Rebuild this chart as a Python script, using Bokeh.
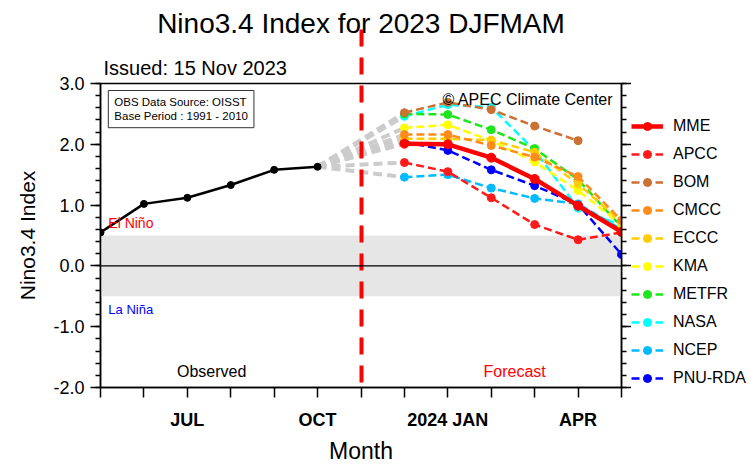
from bokeh.plotting import figure
from bokeh.layouts import row
from bokeh.models import (Range1d, FixedTicker, SingleIntervalTicker, LinearAxis,
                          PrintfTickFormatter, CustomJSTickFormatter, BoxAnnotation, Span,
                          Label, Legend, LegendItem, Title)
from bokeh.embed import file_html
from bokeh.resources import INLINE

FONT = "Liberation Sans"

# ---------------- data ----------------
month_idx = list(range(13))          # May 2023 ... May 2024
month_labels = ["", "", "JUL", "", "", "OCT", "", "", "2024 JAN", "", "", "APR", ""]
separator_month = [6]                # observed / forecast boundary

obs_x = [0, 1, 2, 3, 4, 5]
obs_y = [0.55, 1.02, 1.12, 1.33, 1.58, 1.63]

fc_x = [7, 8, 9, 10, 11, 12]         # DEC ... MAY
mme = [2.01, 2.00, 1.78, 1.43, 0.99, 0.56]
apcc = [1.70, 1.55, 1.12, 0.68, 0.43, 0.55]
bom = [2.52, 2.69, 2.57, 2.30, 2.06]
cmcc = [2.16, 2.16, 1.98, 1.79, 1.47, 0.75]
eccc = [2.09, 2.09, 2.07, 1.87, 1.35, 0.72]
kma = [2.27, 2.32, 2.06, 1.71, 1.24, 0.68]
metfr = [2.50, 2.49, 2.24, 1.93, 1.42, 0.64]
nasa = [2.46, 2.65, 2.61, 1.90, 0.95, 0.66]
ncep = [1.46, 1.50, 1.28, 1.11, 1.02, 0.60]
pnu = [2.04, 1.90, 1.58, 1.32, 1.01, 0.19]

model_names = ["MME", "APCC", "BOM", "CMCC", "ECCC", "KMA", "METFR", "NASA", "NCEP", "PNU-RDA"]
model_values = [mme, apcc, bom, cmcc, eccc, kma, metfr, nasa, ncep, pnu]
model_colors = ["#ff0000", "#ff1a1a", "#cc7033", "#ff8c1a", "#ffcc00", "#ffff00",
                "#1ee61e", "#00ffff", "#00bbff", "#0000ff"]

# ---------------- main figure ----------------
p = figure(frame_width=521, frame_height=304, x_range=Range1d(0, 12), y_range=Range1d(-2, 3),
           output_backend="svg", toolbar_location=None, title=None,
           min_border_left=100, min_border_right=0, min_border_top=83, min_border_bottom=78)
p.xgrid.visible = False
p.ygrid.visible = False
p.outline_line_color = "black"
p.outline_line_width = 1.5
p.background_fill_color = "white"
p.border_fill_color = "white"

blank = CustomJSTickFormatter(code="return ''")

# bottom axis
xa = p.xaxis[0]
xa.ticker = FixedTicker(ticks=month_idx)
xa.major_label_overrides = {i: lab for i, lab in zip(month_idx, month_labels)}
xa.major_tick_out = 10
xa.major_tick_in = 0
xa.minor_tick_out = 0
xa.minor_tick_in = 0
xa.axis_line_width = 1.5
xa.major_tick_line_width = 1.5
xa.major_label_text_font = FONT
xa.major_label_text_font_size = "18px"
xa.major_label_text_font_style = "bold"
xa.major_label_text_color = "black"
xa.major_label_standoff = 12
xa.axis_label = "Month"
xa.axis_label_text_font = FONT
xa.axis_label_text_font_size = "23px"
xa.axis_label_text_font_style = "normal"
xa.axis_label_text_color = "black"
xa.axis_label_standoff = 5

# left axis
ya = p.yaxis[0]
ya.ticker = SingleIntervalTicker(interval=1, num_minor_ticks=5)
ya.formatter = PrintfTickFormatter(format="%.1f")
ya.major_tick_out = 10
ya.major_tick_in = 0
ya.minor_tick_out = 5
ya.minor_tick_in = 0
ya.axis_line_width = 1.5
ya.major_tick_line_width = 1.5
ya.minor_tick_line_width = 1.5
ya.major_label_text_font = FONT
ya.major_label_text_font_size = "18px"
ya.major_label_text_color = "black"
ya.major_label_standoff = 6
ya.axis_label = "Nino3.4 Index"
ya.axis_label_text_font = FONT
ya.axis_label_text_font_size = "21px"
ya.axis_label_text_font_style = "normal"
ya.axis_label_text_color = "black"
ya.axis_label_standoff = 11

# right axis (ticks only)
ra = LinearAxis(ticker=SingleIntervalTicker(interval=1, num_minor_ticks=5),
                formatter=blank, major_label_text_font_size="1px", major_label_standoff=0,
                major_tick_out=10, major_tick_in=0, minor_tick_out=5, minor_tick_in=0,
                axis_line_width=1.5, major_tick_line_width=1.5, minor_tick_line_width=1.5)
p.add_layout(ra, "right")

# titles + red separator drawn as a long tick of an extra top axis
t_issued = Title(text="Issued: 15 Nov 2023", align="left", offset=3, standoff=10,
                 text_font=FONT, text_font_size="20px", text_font_style="normal",
                 text_color="black")
sep_axis = LinearAxis(ticker=FixedTicker(ticks=separator_month, minor_ticks=[]),
                      formatter=blank, major_label_text_font_size="1px",
                      major_label_standoff=0, axis_line_color=None,
                      major_tick_out=20, major_tick_in=344,
                      major_tick_line_color="#ff0000", major_tick_line_width=4,
                      major_tick_line_dash="17 11", minor_tick_out=0, minor_tick_in=0)
t_main = Title(text="Nino3.4 Index for 2023 DJFMAM", align="center", standoff=-19,
               text_font=FONT, text_font_size="28px", text_font_style="normal",
               text_color="black")
p.add_layout(t_issued, "above")
p.add_layout(sep_axis, "above")
p.add_layout(t_main, "above")

# neutral band and zero line
p.add_layout(BoxAnnotation(bottom=-0.5, top=0.5, fill_color="#e6e6e6", fill_alpha=1,
                           line_alpha=0, level="underlay"))
p.add_layout(Span(location=0, dimension="width", line_color="black", line_width=1.2))

# gray connectors from last observation to first forecast month
n = len(model_values)
p.segment(x0=[obs_x[-1]] * n, y0=[obs_y[-1]] * n, x1=[fc_x[0]] * n,
          y1=[v[0] for v in model_values], line_color="#cccccc", line_width=4,
          line_dash="9 5")

# legend panel: a narrow figure whose ranges exclude the data, hosting only the legend
lp = figure(width=120, height=465, x_range=Range1d(1000, 1001), y_range=Range1d(1000, 1001),
            output_backend="svg", toolbar_location=None, title=None,
            x_axis_location=None, y_axis_location=None,
            min_border_left=0, min_border_right=0, min_border_top=0, min_border_bottom=0)
lp.xgrid.visible = False
lp.ygrid.visible = False
lp.outline_line_color = None
lp.background_fill_color = "white"
lp.border_fill_color = "white"

# forecast lines
items = {}
for name, vals, col in list(zip(model_names, model_values, model_colors))[::-1]:
    xs = fc_x[:len(vals)]
    if name == "MME":
        style = dict(line_color=col, line_width=4.5)
        msize = 9
    else:
        style = dict(line_color=col, line_width=2.5, line_dash="8 4")
        msize = 8
    p.line(xs, vals, **style)
    p.scatter(xs, vals, size=msize, fill_color=col, line_color=col)
    lr = lp.line(xs, vals, **style)
    sr = lp.scatter(xs, vals, size=msize, fill_color=col, line_color=col)
    items[name] = LegendItem(label=name, renderers=[lr, sr])

# observed
p.line(obs_x, obs_y, line_color="black", line_width=2.5)
p.scatter(obs_x, obs_y, size=7, fill_color="black", line_color="black")

# texts
p.add_layout(Label(x=0.18, y=0.70, text="El Niño", text_color="#ff0000",
                   text_font=FONT, text_font_size="14px", text_baseline="middle"))
p.add_layout(Label(x=0.18, y=-0.72, text="La Niña", text_color="#0000ff",
                   text_font=FONT, text_font_size="13px", text_baseline="middle"))
p.add_layout(Label(x=2.56, y=-1.74, text="Observed", text_color="black",
                   text_font=FONT, text_font_size="16px", text_baseline="middle",
                   text_align="center"))
p.add_layout(Label(x=9.54, y=-1.74, text="Forecast", text_color="#ff0000",
                   text_font=FONT, text_font_size="16px", text_baseline="middle",
                   text_align="center"))
p.add_layout(Label(x=11.815, y=2.737, text="© APEC Climate Center", text_color="black",
                   text_font=FONT, text_font_size="16px", text_baseline="middle",
                   text_align="right"))
p.add_layout(Label(x=0.18, y=2.885, text="OBS Data Source: OISST\nBase Period : 1991 - 2010",
                   text_color="black", text_font=FONT, text_font_size="11.5px",
                   text_baseline="top", text_align="left", text_line_height=1.1,
                   border_line_color="#333333", border_line_width=1,
                   background_fill_color="white", padding=6))

legend = Legend(items=[items[nm] for nm in model_names], location=(0, -2),
                orientation="vertical", glyph_width=32, glyph_height=20,
                label_height=20, spacing=8, label_standoff=10, padding=0, margin=0,
                label_text_font=FONT, label_text_font_size="16px", label_text_color="black",
                border_line_alpha=0, background_fill_alpha=0)
lp.add_layout(legend, "center")

layout = row(p, lp)
open("out.html", "w").write(file_html(layout, INLINE))
